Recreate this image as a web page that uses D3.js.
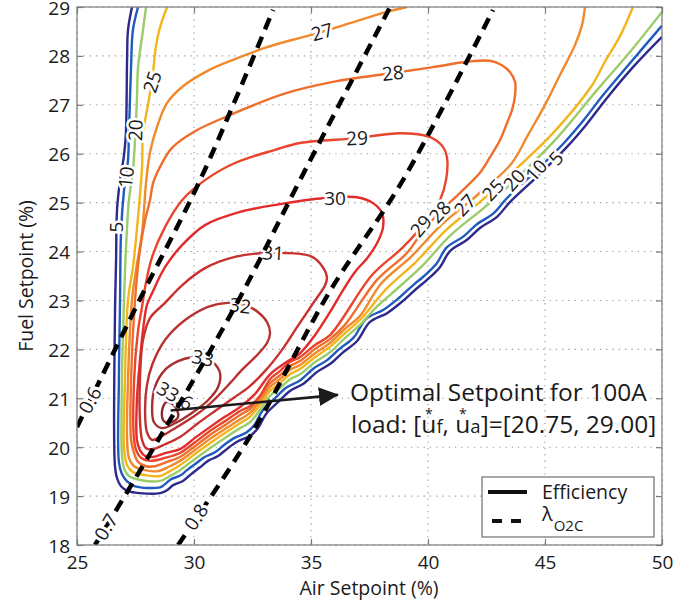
<!DOCTYPE html>
<html>
<head>
<meta charset="utf-8">
<script src="https://cdn.jsdelivr.net/npm/d3@7"></script>
<style>
  body { margin: 0; background: #fff; }
  svg { display: block; font-family: "Open Sans", sans-serif; }
</style>
</head>
<body>
<div id="chart"></div>
<script>
// axis ticks
const airTicks = [25, 30, 35, 40, 45, 50];
const fuelTicks = [18, 19, 20, 21, 22, 23, 24, 25, 26, 27, 28, 29];

// efficiency contours, [air %, fuel %]
const eff5 = [[27.35,29.00],[27.18,28.53],[27.14,27.92],[27.09,26.42],[27.01,25.97],[26.84,25.46],[26.71,24.85],[26.67,23.83],[26.62,22.60],[26.62,19.63],[26.71,19.37],[26.88,19.20],[27.18,19.10],[27.69,19.06],[28.55,19.06],[28.85,19.12],[29.10,19.22],[29.53,19.31],[29.83,19.43],[30.26,19.59],[30.60,19.72],[31.03,19.82],[31.45,19.98],[31.88,20.12],[32.39,20.23],[32.74,20.39],[33.08,20.68],[33.59,20.92],[34.10,21.15],[34.66,21.29],[35.26,21.54],[35.81,21.70],[36.37,21.94],[36.97,22.17],[37.52,22.56],[38.25,22.74],[38.93,22.99],[39.53,23.25],[39.96,23.42],[40.51,23.68],[40.94,24.01],[41.67,24.24],[42.22,24.48],[42.95,24.71],[43.50,25.01],[44.79,25.59],[45.94,26.14],[46.79,26.61],[47.65,27.14],[48.76,27.77],[50.00,28.39]];
const eff10 = [[27.61,29.00],[27.39,28.53],[27.31,27.77],[27.22,26.42],[27.18,25.87],[27.01,25.26],[26.88,24.38],[26.84,23.01],[26.79,21.37],[26.79,19.70],[26.92,19.45],[27.14,19.30],[27.48,19.20],[28.55,19.18],[28.75,19.24],[29.00,19.34],[29.41,19.42],[29.70,19.53],[30.12,19.68],[30.46,19.80],[30.88,19.89],[31.30,20.05],[31.73,20.19],[32.24,20.30],[32.59,20.46],[32.93,20.75],[33.44,20.99],[33.95,21.22],[34.51,21.36],[35.11,21.61],[35.66,21.77],[36.22,22.01],[36.82,22.24],[37.37,22.63],[38.10,22.81],[38.78,23.06],[39.38,23.32],[39.81,23.49],[40.36,23.75],[40.79,24.08],[41.52,24.31],[42.07,24.55],[42.80,24.78],[43.35,25.08],[44.64,25.66],[45.79,26.21],[46.64,26.68],[47.50,27.21],[48.61,27.84],[50.00,28.62]];
const eff20 = [[27.95,29.00],[27.82,28.53],[27.61,27.77],[27.56,27.10],[27.48,26.28],[27.39,25.67],[27.22,25.05],[27.09,24.03],[27.01,23.01],[26.92,21.37],[26.92,19.84],[27.01,19.57],[27.22,19.41],[27.69,19.33],[28.55,19.31],[28.97,19.41],[29.40,19.53],[30.04,19.76],[30.68,19.98],[31.32,20.19],[31.97,20.39],[32.39,20.51],[32.82,20.76],[33.25,21.05],[33.68,21.21],[34.10,21.39],[34.53,21.49],[35.17,21.74],[35.81,21.94],[36.45,22.23],[37.09,22.50],[37.74,22.84],[38.42,23.13],[39.70,23.68],[40.98,24.34],[42.48,24.93],[43.97,25.58],[45.51,26.32],[47.22,27.30],[48.63,28.08],[50.00,28.90]];
const eff25 = [[28.85,29.00],[28.55,28.59],[28.38,28.22],[28.21,27.51],[27.99,26.89],[27.82,26.42],[27.78,25.73],[27.61,24.71],[27.39,23.68],[27.18,23.01],[27.05,21.37],[27.01,19.98],[27.14,19.63],[27.39,19.49],[27.91,19.43],[28.55,19.41],[28.97,19.51],[29.40,19.63],[30.04,19.86],[30.68,20.08],[31.32,20.29],[31.97,20.49],[32.39,20.62],[32.82,20.86],[33.25,21.15],[33.68,21.31],[34.10,21.49],[34.53,21.60],[35.17,21.84],[35.81,22.05],[36.45,22.33],[37.09,22.60],[38.21,23.23],[39.49,23.79],[40.77,24.44],[42.26,25.03],[43.76,25.69],[45.30,26.40],[47.01,27.40],[47.56,27.88],[48.21,28.41],[48.76,29.00]];
const eff27 = [[39.10,29.00],[38.08,28.88],[36.67,28.67],[35.47,28.49],[34.53,28.37],[33.12,28.18],[31.67,27.92],[30.56,27.69],[29.53,27.38],[28.85,27.04],[28.42,26.55],[28.12,26.03],[27.95,25.40],[27.78,24.38],[27.52,23.62],[27.35,23.01],[27.18,21.37],[27.14,20.15],[27.22,19.78],[27.44,19.61],[27.91,19.53],[28.46,19.51],[28.97,19.61],[29.40,19.72],[30.04,19.94],[30.68,20.17],[31.32,20.37],[31.97,20.57],[32.39,20.70],[32.82,20.94],[33.25,21.23],[33.68,21.39],[34.10,21.58],[34.53,21.68],[35.17,21.92],[35.81,22.13],[36.45,22.42],[37.09,22.68],[37.99,23.34],[39.27,23.89],[40.56,24.54],[42.05,25.13],[43.55,25.79],[44.27,26.38],[45.00,27.00],[45.64,27.61],[46.28,28.22],[46.58,28.63],[46.71,29.00]];
const eff28 = [[28.12,25.05],[28.25,25.40],[28.55,25.73],[29.06,26.12],[30.04,26.46],[31.54,26.79],[33.80,27.22],[35.94,27.47],[38.50,27.65],[40.21,27.77],[41.67,27.88],[42.65,27.90],[43.16,27.81],[43.50,27.67],[43.72,27.47],[43.72,27.20],[43.59,26.89],[43.38,26.63],[43.08,26.28],[42.65,25.93],[42.22,25.61],[41.37,25.20],[40.60,24.85],[39.87,24.48],[39.10,23.97],[37.82,23.42],[36.45,22.50],[35.81,22.21],[35.17,22.01],[34.53,21.76],[34.10,21.66],[33.68,21.47],[33.25,21.31],[32.82,21.02],[32.39,20.78],[31.97,20.66],[31.32,20.45],[30.68,20.25],[30.04,20.02],[29.40,19.80],[28.85,19.70],[28.33,19.61],[27.95,19.61],[27.61,19.70],[27.44,19.88],[27.31,20.15],[27.31,21.37],[27.48,23.01],[27.69,24.03],[27.91,24.64]];
const eff29 = [[27.78,22.87],[27.91,23.27],[28.21,23.89],[28.76,24.50],[29.49,25.05],[30.47,25.46],[31.75,25.81],[33.46,26.08],[34.53,26.22],[36.97,26.32],[38.80,26.42],[40.09,26.34],[40.64,26.14],[40.81,25.93],[40.77,25.46],[40.51,25.05],[39.96,24.64],[38.89,24.07],[37.61,23.52],[35.81,22.29],[35.17,22.09],[34.53,21.84],[34.10,21.74],[33.68,21.56],[33.25,21.39],[32.82,21.05],[32.39,20.84],[31.97,20.74],[31.32,20.53],[30.68,20.33],[30.04,20.10],[29.40,19.88],[28.76,19.78],[28.12,19.72],[27.74,19.78],[27.56,19.90],[27.44,20.15],[27.44,21.37],[27.61,22.39]];
const eff30 = [[28.21,23.15],[28.76,23.68],[29.49,24.13],[30.47,24.54],[31.97,24.81],[33.68,24.97],[35.51,25.09],[36.97,25.11],[37.65,24.99],[38.03,24.79],[38.08,24.50],[37.82,24.17],[37.44,23.89],[36.88,23.58],[36.37,23.21],[35.81,22.76],[35.17,22.29],[34.53,21.92],[33.89,21.72],[33.25,21.49],[32.61,21.09],[31.97,20.82],[31.32,20.62],[30.68,20.41],[30.04,20.19],[29.40,19.96],[28.76,19.88],[28.25,19.80],[27.91,19.82],[27.69,19.94],[27.56,20.15],[27.56,20.96],[27.69,21.78],[27.82,22.39],[27.99,22.91]];
const eff31 = [[33.16,23.97],[34.96,23.91],[35.38,23.76],[35.68,23.48],[35.60,23.31],[35.13,22.97],[34.44,22.48],[33.76,21.99],[33.08,21.58],[32.39,21.25],[31.67,21.00],[30.90,20.74],[30.17,20.49],[29.40,20.21],[28.76,20.06],[28.25,19.96],[27.95,19.98],[27.78,20.15],[27.69,20.55],[27.69,21.37],[27.82,22.19],[28.12,22.64],[28.76,22.95],[29.49,23.31],[30.47,23.66],[31.75,23.89]];
const eff32 = [[31.45,22.95],[32.18,22.91],[32.74,22.76],[33.12,22.56],[33.25,22.33],[33.12,22.13],[32.69,21.88],[32.09,21.60],[31.54,21.31],[31.03,21.05],[30.47,20.80],[29.74,20.55],[29.06,20.35],[28.55,20.21],[28.21,20.15],[27.99,20.31],[27.91,20.76],[27.99,21.27],[28.21,21.68],[28.76,22.19],[29.62,22.60],[30.60,22.87]];
const eff33 = [[29.91,21.84],[30.43,21.84],[30.81,21.74],[31.11,21.52],[31.03,21.23],[30.60,20.96],[29.91,20.70],[29.19,20.49],[28.63,20.39],[28.29,20.51],[28.21,20.82],[28.33,21.23],[28.76,21.58],[29.32,21.76]];
const eff336 = [[28.80,20.92],[28.63,20.72],[28.72,20.53],[29.02,20.51],[29.32,20.62],[29.23,20.80],[29.02,20.90]];

const levels = [5, 10, 20, 25, 27, 28, 29, 30, 31, 32, 33, 33.6];
const contourData = [eff5, eff10, eff20, eff25, eff27, eff28, eff29, eff30, eff31, eff32, eff33, eff336];
const closedLevels = [28, 29, 30, 31, 32, 33, 33.6];

// lambda_O2C lines
const lambdaValues = [0.6, 0.7, 0.8];
const lambda06 = [[25.00,20.41],[27.61,22.95],[30.26,25.46],[33.38,28.94]];
const lambda07 = [[25.77,18.00],[28.55,20.21],[31.84,22.95],[34.53,25.46],[38.38,29.00]];
const lambda08 = [[29.32,18.00],[32.48,20.29],[35.81,23.19],[38.93,25.46],[42.78,28.94]];
const lambdaData = [lambda06, lambda07, lambda08];

// inline contour labels: text, air, fuel, angle
const contourLabels = [
  ["5", 26.69, 24.50, -90], ["10", 27.10, 25.52, -84], ["20", 27.50, 26.48, -88], ["25", 28.22, 27.47, -72],
  ["27", 35.47, 28.49, -16], ["28", 38.50, 27.65, -6], ["29", 36.97, 26.32, -3], ["30", 36.03, 25.09, 0],
  ["31", 33.38, 23.97, 3], ["32", 31.97, 22.89, 8], ["33", 30.38, 21.82, 12], ["33.6", 29.19, 21.05, 30],
  ["29", 39.70, 24.52, -50], ["28", 40.51, 24.81, -48], ["27", 41.58, 24.95, -48], ["25", 42.78, 25.26, -48],
  ["20", 43.68, 25.46, -48], ["10", 44.62, 25.66, -48], ["5", 45.47, 25.91, -48]
];
const lambdaLabels = [["0.6", 25.56, 20.96, -62], ["0.7", 26.24, 18.37, -59], ["0.8", 30.09, 18.57, -57]];

// optimal setpoint (air, fuel) and arrow end
const optimum = [29.00, 20.75];
const arrowEnd = [36.15, 21.07];

const colors = {5: "#2c2a8c", 10: "#1f5bbf", 20: "#9ccc6a", 25: "#f4b41c", 27: "#f08a2c", 28: "#ee6e2c",
  29: "#e9452c", 30: "#e32b2b", 31: "#c93030", 32: "#b83232", 33: "#a82f2f", 33.6: "#952828"};

const W = 696, H = 607;
const svg = d3.select("#chart").append("svg").attr("width", W).attr("height", H);

const x = d3.scaleLinear().domain([25, 50]).range([77, 662]);
const y = d3.scaleLinear().domain([18, 29]).range([545, 7]);

svg.append("defs").append("clipPath").attr("id", "plot")
  .append("rect").attr("x", 77).attr("y", 7).attr("width", 585).attr("height", 538);
svg.select("defs").append("marker")
  .attr("id", "head").attr("viewBox", "0 -10 20 20").attr("refX", 19).attr("refY", 0)
  .attr("markerWidth", 20).attr("markerHeight", 20).attr("markerUnits", "userSpaceOnUse")
  .attr("orient", "auto")
  .append("path").attr("d", "M0,-9.5L20,0L0,9.5Z").attr("fill", "#1b1b1b");

// grid
const grid = svg.append("g");
grid.selectAll(".gx").data(airTicks).join("line")
  .attr("x1", d => x(d)).attr("x2", d => x(d)).attr("y1", 7).attr("y2", 545);
grid.selectAll(".gy").data(fuelTicks).join("line")
  .attr("x1", 77).attr("x2", 662).attr("y1", d => y(d)).attr("y2", d => y(d));
grid.selectAll("line").attr("stroke", "#9a9a9a").attr("stroke-width", 1.1).attr("stroke-dasharray", "1.3,5");

// contours
const line = d3.line().x(d => x(d[0])).y(d => y(d[1])).curve(d3.curveCatmullRom.alpha(0.5));
const lineClosed = d3.line().x(d => x(d[0])).y(d => y(d[1])).curve(d3.curveCatmullRomClosed.alpha(0.5));

const plot = svg.append("g").attr("clip-path", "url(#plot)");
plot.selectAll(".contour").data(levels).join("path")
  .attr("class", "contour")
  .attr("d", (lv, i) => closedLevels.includes(lv) ? lineClosed(contourData[i]) : line(contourData[i]))
  .attr("fill", "none")
  .attr("stroke", lv => colors[lv])
  .attr("stroke-width", 2.4)
  .attr("stroke-linejoin", "round");

// contour labels
plot.selectAll(".clabel").data(contourLabels).join("text")
  .attr("class", "clabel")
  .attr("transform", d => `translate(${x(d[1])},${y(d[2])}) rotate(${d[3]})`)
  .attr("text-anchor", "middle").attr("dy", "0.36em")
  .attr("font-size", 19).attr("fill", "#1a1a1a")
  .attr("stroke", "#fff").attr("stroke-width", 5).attr("paint-order", "stroke")
  .text(d => d[0]);

// lambda lines
const lamLine = d3.line().x(d => x(d[0])).y(d => y(d[1])).curve(d3.curveCatmullRom.alpha(0.5));
plot.selectAll(".lambda").data(lambdaData).join("path")
  .attr("class", "lambda")
  .attr("d", lamLine)
  .attr("fill", "none").attr("stroke", "#000")
  .attr("stroke-width", 4.5).attr("stroke-dasharray", "12,8");

plot.selectAll(".llabel").data(lambdaLabels).join("text")
  .attr("class", "llabel")
  .attr("transform", d => `translate(${x(d[1])},${y(d[2])}) rotate(${d[3]})`)
  .attr("text-anchor", "middle").attr("dy", "0.36em")
  .attr("font-size", 19).attr("fill", "#1a1a1a")
  .attr("stroke", "#fff").attr("stroke-width", 6).attr("paint-order", "stroke")
  .text(d => d[0]);

// arrow to optimal point
svg.append("line")
  .attr("x1", x(optimum[0])).attr("y1", y(optimum[1]))
  .attr("x2", x(arrowEnd[0])).attr("y2", y(arrowEnd[1]))
  .attr("stroke", "#1b1b1b").attr("stroke-width", 2.6)
  .attr("marker-end", "url(#head)");

// annotation
const ann = svg.append("g").attr("fill", "#1a1a1a").attr("font-size", 24.5);
ann.append("text").attr("x", 350).attr("y", 401).text("Optimal Setpoint for 100A");
const t2 = ann.append("text").attr("x", 351).attr("y", 433);
t2.append("tspan").text("load: [");
t2.append("tspan").text("u");
t2.append("tspan").attr("font-size", 18.5).text("f");
t2.append("tspan").text(", ");
t2.append("tspan").text("u");
t2.append("tspan").attr("font-size", 18.5).text("a");
t2.append("tspan").text("]=[20.75, 29.00]");
const tn = t2.node();
[7, 11].forEach(ci => {
  const s = tn.getStartPositionOfChar(ci).x, e = tn.getEndPositionOfChar(ci).x;
  ann.append("text").attr("x", (s + e) / 2).attr("y", 433 - 14)
    .attr("text-anchor", "middle").attr("font-size", 14).text("*");
});

// legend
const lg = svg.append("g");
lg.append("rect").attr("x", 482).attr("y", 477).attr("width", 172).attr("height", 60)
  .attr("fill", "#fff").attr("stroke", "#6e6e6e").attr("stroke-width", 1.2);
lg.append("line").attr("x1", 488).attr("x2", 527).attr("y1", 492).attr("y2", 492)
  .attr("stroke", "#111").attr("stroke-width", 4);
lg.append("line").attr("x1", 492).attr("x2", 523).attr("y1", 521).attr("y2", 521)
  .attr("stroke", "#111").attr("stroke-width", 4).attr("stroke-dasharray", "10,9");
lg.append("text").attr("x", 542).attr("y", 499).attr("font-size", 19.5).attr("fill", "#1a1a1a").text("Efficiency");
const lam = lg.append("text").attr("x", 542).attr("y", 521).attr("font-size", 20).attr("fill", "#1a1a1a");
lam.append("tspan").text("λ");
lam.append("tspan").attr("font-size", 15).attr("dy", 10).attr("dx", 1).text("O2C");

// frame and ticks
svg.append("rect").attr("x", 77).attr("y", 7).attr("width", 585).attr("height", 538)
  .attr("fill", "none").attr("stroke", "#7a7a7a").attr("stroke-width", 1.2);

const axB = svg.append("g").attr("transform", "translate(0,545)")
  .call(d3.axisBottom(x).tickValues(airTicks).tickSize(-6).tickPadding(11));
const axT = svg.append("g").attr("transform", "translate(0,7)")
  .call(d3.axisTop(x).tickValues(airTicks).tickSize(-6).tickFormat(""));
const axL = svg.append("g").attr("transform", "translate(77,0)")
  .call(d3.axisLeft(y).tickValues(fuelTicks).tickSize(-6).tickPadding(7));
const axR = svg.append("g").attr("transform", "translate(662,0)")
  .call(d3.axisRight(y).tickValues(fuelTicks).tickSize(-6).tickFormat(""));
[axB, axT, axL, axR].forEach(a => {
  a.select(".domain").remove();
  a.selectAll(".tick line").attr("stroke", "#7a7a7a").attr("stroke-width", 1.2);
  a.selectAll(".tick text").attr("font-size", 19).attr("fill", "#1a1a1a")
    .attr("font-family", "'Open Sans', sans-serif");
});
axL.selectAll(".tick text").attr("dy", "0.37em");

// axis titles
svg.append("text").attr("x", 369).attr("y", 595).attr("text-anchor", "middle")
  .attr("font-size", 19.5).attr("fill", "#1a1a1a").text("Air Setpoint (%)");
svg.append("text").attr("transform", "translate(33,276) rotate(-90)").attr("text-anchor", "middle")
  .attr("font-size", 19.5).attr("fill", "#1a1a1a").text("Fuel Setpoint (%)");
</script>
</body>
</html>
